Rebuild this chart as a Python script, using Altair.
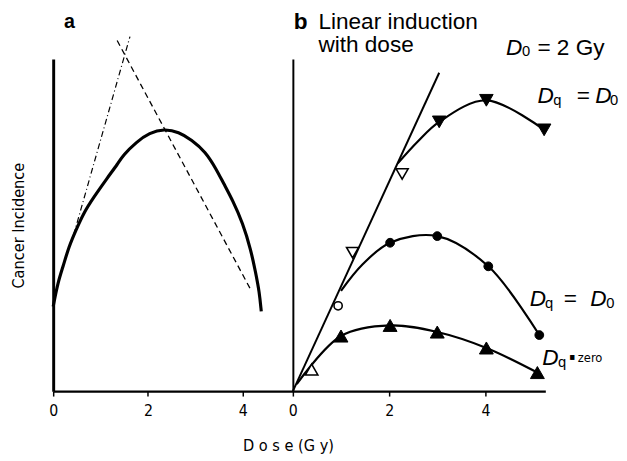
import altair as alt
import pandas as pd

# ---------------- data ----------------
# Panel a: solid bell-shaped curve
a_curve_dose = [0.0, 0.10, 0.21, 0.33, 0.48, 0.64, 0.85, 1.14, 1.37, 1.47, 1.76, 2.03, 2.34, 2.65,
                2.92, 3.21, 3.44, 3.59, 3.79, 4.00, 4.17, 4.27, 4.35, 4.39]
a_curve_inc = [25.5, 32.8, 37.6, 43.5, 48.5, 53.6, 58.3, 64.2, 68.6, 71.0, 75.1, 77.8, 79.0, 78.1,
               75.7, 72.2, 66.9, 62.7, 57.4, 50.6, 42.6, 35.8, 29.9, 24.0]
# Panel a: rising dash-dot line and falling dashed line
a_rise_dose = [0.43, 1.62]
a_rise_inc = [47.0, 106.8]
a_fall_dose = [1.35, 4.17]
a_fall_inc = [105.6, 30.5]

# Panel b: linear induction line
lin_dose = [0.0, 3.04]
lin_inc = [0.0, 95.9]
# upper series (inverted triangles)
up_open_dose = [1.24, 2.27]
up_open_inc = [41.7, 65.4]
up_fill_dose = [3.04, 4.02, 5.22]
up_fill_inc = [81.1, 87.6, 78.7]
up_curve_dose = [2.18, 2.59, 3.04, 4.02, 5.22]
up_curve_inc = [68.6, 75.1, 81.1, 87.6, 78.7]
# middle series (circles)
mid_open_dose = [0.94]
mid_open_inc = [25.7]
mid_fill_dose = [2.02, 3.00, 4.06, 5.12]
mid_fill_inc = [44.7, 46.7, 37.6, 16.9]
mid_curve_dose = [1.00, 1.45, 2.02, 3.00, 4.06, 5.12]
mid_curve_inc = [30.2, 38.2, 44.7, 46.7, 37.6, 16.9]
# lower series (triangles)
low_open_dose = [0.39]
low_open_inc = [6.5]
low_fill_dose = [1.00, 2.02, 3.00, 4.02, 5.08]
low_fill_inc = [16.6, 19.8, 17.8, 13.0, 5.6]
low_curve_dose = [0.08, 1.00, 2.02, 3.00, 4.02, 5.08]
low_curve_inc = [2.1, 16.6, 19.8, 17.8, 13.0, 5.6]

x_ticks = [0, 2, 4]

# annotation texts (positions in data units)
lab_a = ["a"]
lab_a_dose = [0.23]
lab_a_inc = [109.3]

lab_bold = ["b"]
lab_bold_dose = [0.02]
lab_bold_inc = [109.2]

lab_head = ["Linear induction", "with dose"]
lab_head_dose = [0.53, 0.53]
lab_head_inc = [109.2, 102.1]

lab_D = ["D", "D", "D", "D", "D", "D"]
lab_D_dose = [4.43, 5.08, 6.28, 4.92, 6.18, 5.18]
lab_D_inc = [101.2, 86.7, 86.7, 25.7, 25.7, 8.0]

lab_norm = ["= 2 Gy", "=", "="]
lab_norm_dose = [5.08, 5.90, 5.63]
lab_norm_inc = [101.2, 86.7, 25.7]

lab_sub = ["0", "q", "0", "q", "0", "q"]
lab_sub_dose = [4.76, 5.41, 6.59, 5.24, 6.51, 5.51]
lab_sub_inc = [100.9, 86.3, 86.1, 25.1, 25.1, 7.4]

lab_dot = ["\u25aa"]
lab_dot_dose = [5.74]
lab_dot_inc = [9.4]

lab_small = ["zero"]
lab_small_dose = [5.92]
lab_small_inc = [8.9]

# ---------------- helpers ----------------
def df(d, v, t=None):
    data = {"dose": d, "inc": v}
    if t is not None:
        data["t"] = t
    return pd.DataFrame(data)

FONT_AX = "DejaVu Sans Condensed"
FONT_TX = "Liberation Sans"

y_scale = alt.Scale(domain=[0, 100], nice=False, zero=False)
xa_scale = alt.Scale(domain=[0, 5.057], nice=False, zero=False)
xb_scale = alt.Scale(domain=[0, 5.245], nice=False, zero=False)

common_x_axis = dict(values=x_ticks, labelFlush=False, domainWidth=2.5, domainColor="black",
                     tickColor="black", tickWidth=1.5, tickSize=5, labelPadding=7,
                     labelFont=FONT_AX, labelFontSize=16, labelColor="black", grid=False)

xa_axis = alt.Axis(title="D o s e  (G y)", titleX=239, titleY=47, titleFont=FONT_AX,
                   titleFontSize=16.5, titleFontWeight="normal", titleColor="black", **common_x_axis)
xb_axis = alt.Axis(title=None, **common_x_axis)

ya_axis = alt.Axis(title="Cancer Incidence", labels=False, ticks=False, grid=False,
                   domainWidth=3, domainColor="black", titlePadding=27.5, titleFont=FONT_AX,
                   titleFontSize=16.5, titleFontWeight="normal", titleColor="black")
yb_axis = alt.Axis(title=None, labels=False, ticks=False, grid=False,
                   domainWidth=2, domainColor="black")

XA = alt.X("dose:Q", scale=xa_scale, axis=xa_axis)
YA = alt.Y("inc:Q", scale=y_scale, axis=ya_axis)
XB = alt.X("dose:Q", scale=xb_scale, axis=xb_axis)
YB = alt.Y("inc:Q", scale=y_scale, axis=yb_axis)


def line(d, v, X, Y, **kw):
    return alt.Chart(df(d, v)).mark_line(color="black", **kw).encode(x=X, y=Y, order="dose:Q")


def pts(d, v, X, Y, shape, size, filled):
    if filled:
        m = alt.Chart(df(d, v)).mark_point(shape=shape, size=size, filled=True,
                                           fill="black", stroke="black", strokeWidth=1, opacity=1)
    else:
        m = alt.Chart(df(d, v)).mark_point(shape=shape, size=size, filled=True,
                                           fill="white", stroke="black", strokeWidth=1.6, opacity=1)
    return m.encode(x=X, y=Y)


def txt(t, d, v, X, Y, **kw):
    return alt.Chart(df(d, v, t)).mark_text(align="left", baseline="alphabetic",
                                            color="black", **kw).encode(x=X, y=Y, text="t:N")


# ---------------- panel a ----------------
panel_a = alt.layer(
    line(a_curve_dose, a_curve_inc, XA, YA, strokeWidth=3.2, interpolate="basis"),
    line(a_rise_dose, a_rise_inc, XA, YA, strokeWidth=1.2, strokeDash=[6, 3, 1, 3]),
    line(a_fall_dose, a_fall_inc, XA, YA, strokeWidth=1.3, strokeDash=[6, 4]),
    txt(lab_a, lab_a_dose, lab_a_inc, XA, YA, font=FONT_TX, fontSize=20, fontWeight="bold"),
).properties(width=244, height=338)

# ---------------- panel b ----------------
panel_b = alt.layer(
    line(lin_dose, lin_inc, XB, YB, strokeWidth=2),
    line(up_curve_dose, up_curve_inc, XB, YB, strokeWidth=2.2, interpolate="catmull-rom"),
    line(mid_curve_dose, mid_curve_inc, XB, YB, strokeWidth=2.2, interpolate="catmull-rom"),
    line(low_curve_dose, low_curve_inc, XB, YB, strokeWidth=2.2, interpolate="catmull-rom"),
    pts(up_fill_dose, up_fill_inc, XB, YB, "triangle-down", 190, True),
    pts(up_open_dose, up_open_inc, XB, YB, "triangle-down", 150, False),
    pts(mid_fill_dose, mid_fill_inc, XB, YB, "circle", 80, True),
    pts(mid_open_dose, mid_open_inc, XB, YB, "circle", 70, False),
    pts(low_fill_dose, low_fill_inc, XB, YB, "triangle-up", 200, True),
    pts(low_open_dose, low_open_inc, XB, YB, "triangle-up", 160, False),
    txt(lab_bold, lab_bold_dose, lab_bold_inc, XB, YB, font=FONT_TX, fontSize=23, fontWeight="bold"),
    txt(lab_head, lab_head_dose, lab_head_inc, XB, YB, font=FONT_TX, fontSize=23),
    txt(lab_D, lab_D_dose, lab_D_inc, XB, YB, font=FONT_TX, fontSize=23, fontStyle="italic"),
    txt(lab_norm, lab_norm_dose, lab_norm_inc, XB, YB, font=FONT_TX, fontSize=23),
    txt(lab_sub, lab_sub_dose, lab_sub_inc, XB, YB, font=FONT_TX, fontSize=15),
    txt(lab_dot, lab_dot_dose, lab_dot_inc, XB, YB, font=FONT_AX, fontSize=10),
    txt(lab_small, lab_small_dose, lab_small_inc, XB, YB, font=FONT_AX, fontSize=13),
).properties(width=257, height=338)

chart = alt.hconcat(panel_a, panel_b, spacing=0, bounds="flush").properties(
    padding={"top": -2, "left": 2, "right": 0, "bottom": 0}, background="white"
).configure_view(stroke=None)

chart.save("out.html", embed_options={"renderer": "svg", "actions": False})
